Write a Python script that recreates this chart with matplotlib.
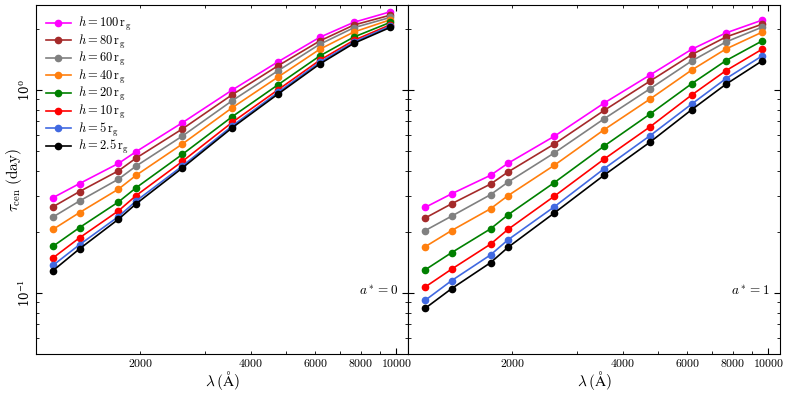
import numpy as np
import matplotlib
matplotlib.use("Agg")
import matplotlib.pyplot as plt
from matplotlib.ticker import FuncFormatter, NullFormatter, LogLocator

plt.rcParams['mathtext.fontset'] = 'cm'
plt.rcParams['font.family'] = 'serif'
plt.rcParams['font.serif'] = ['DejaVu Serif']

# wavelengths (Angstrom)
wave = [1158, 1367, 1746, 1950, 2607, 3565, 4755, 6174, 7651, 9630]

heights = ['100', '80', '60', '40', '20', '10', '5', '2.5']
colors = ['magenta', 'brown', 'gray', 'tab:orange', 'green', 'red', 'royalblue', 'black']

# a* = 0
tau_a0_h100 = [0.295, 0.346, 0.435, 0.497, 0.690, 1.000, 1.378, 1.818, 2.156, 2.430]
tau_a0_h80 = [0.266, 0.316, 0.400, 0.462, 0.643, 0.948, 1.317, 1.744, 2.090, 2.339]
tau_a0_h60 = [0.237, 0.284, 0.364, 0.422, 0.593, 0.886, 1.245, 1.679, 2.027, 2.280]
tau_a0_h40 = [0.206, 0.249, 0.325, 0.380, 0.542, 0.818, 1.159, 1.587, 1.931, 2.220]
tau_a0_h20 = [0.170, 0.210, 0.281, 0.330, 0.482, 0.739, 1.062, 1.471, 1.824, 2.156]
tau_a0_h10 = [0.149, 0.187, 0.254, 0.302, 0.445, 0.693, 1.003, 1.401, 1.757, 2.098]
tau_a0_h5 = [0.137, 0.173, 0.238, 0.284, 0.422, 0.665, 0.974, 1.369, 1.724, 2.067]
tau_a0_h2p5 = [0.129, 0.165, 0.231, 0.275, 0.413, 0.652, 0.956, 1.343, 1.698, 2.037]

# a* = 1
tau_a1_h100 = [0.264, 0.308, 0.380, 0.436, 0.592, 0.863, 1.186, 1.587, 1.910, 2.212]
tau_a1_h80 = [0.234, 0.275, 0.344, 0.395, 0.542, 0.794, 1.107, 1.493, 1.824, 2.113]
tau_a1_h60 = [0.203, 0.239, 0.305, 0.352, 0.490, 0.722, 1.015, 1.390, 1.724, 2.044]
tau_a1_h40 = [0.169, 0.203, 0.260, 0.302, 0.426, 0.638, 0.903, 1.254, 1.592, 1.931]
tau_a1_h20 = [0.130, 0.158, 0.207, 0.243, 0.350, 0.530, 0.762, 1.074, 1.395, 1.749]
tau_a1_h10 = [0.107, 0.131, 0.174, 0.206, 0.300, 0.457, 0.659, 0.945, 1.245, 1.592]
tau_a1_h5 = [0.092, 0.115, 0.154, 0.183, 0.266, 0.410, 0.596, 0.853, 1.137, 1.476]
tau_a1_h2p5 = [0.084, 0.105, 0.141, 0.168, 0.248, 0.381, 0.554, 0.800, 1.067, 1.395]

tau_a0 = [tau_a0_h100, tau_a0_h80, tau_a0_h60, tau_a0_h40,
          tau_a0_h20, tau_a0_h10, tau_a0_h5, tau_a0_h2p5]
tau_a1 = [tau_a1_h100, tau_a1_h80, tau_a1_h60, tau_a1_h40,
          tau_a1_h20, tau_a1_h10, tau_a1_h5, tau_a1_h2p5]

fig, axes = plt.subplots(1, 2, figsize=(7.89, 3.93), dpi=100, sharey=True)
fig.subplots_adjust(left=0.0456, right=0.9886, top=0.987, bottom=0.099, wspace=0)

xfmt = FuncFormatter(lambda v, p: r'$%d$' % v if int(round(v)) in (2000, 4000, 6000, 8000, 10000) else '')

for ax, data, spin in zip(axes, [tau_a0, tau_a1], ['0', '1']):
    for tau, h, c in zip(data, heights, colors):
        ax.plot(wave, tau, '-o', color=c, lw=1.2, ms=4.5,
                label=r'$h = %s\,\rm r_g$' % h)
    ax.set_xscale('log')
    ax.set_yscale('log')
    ax.set_xlim(1040, 10750)
    ax.set_ylim(0.05, 2.62)
    ax.xaxis.set_major_locator(LogLocator(base=10))
    ax.xaxis.set_minor_locator(LogLocator(base=10, subs=np.arange(2, 10)))
    ax.xaxis.set_major_formatter(xfmt)
    ax.xaxis.set_minor_formatter(xfmt)
    ax.tick_params(which='both', direction='in', top=True, right=True, labelsize=8.5, pad=2)
    ax.tick_params(which='major', length=4)
    ax.tick_params(which='minor', length=2)
    ax.set_xlabel(r'$\lambda\,(\rm \AA)$', fontsize=11, va='center')
    ax.xaxis.set_label_coords(0.5, -0.075)
    ax.text(0.92, 0.18, r'$a^* = %s$' % spin, transform=ax.transAxes,
            ha='center', va='center', fontsize=9.5)

axes[0].yaxis.set_minor_formatter(NullFormatter())
for lab in axes[0].get_yticklabels():
    lab.set_rotation(90)
    lab.set_va('center')
axes[0].set_ylabel(r'$\tau_{\rm cen}\ (\rm day)$', fontsize=11, va='center')
axes[0].yaxis.set_label_coords(-0.059, 0.5)
axes[1].tick_params(axis='y', which='both', labelleft=False)

axes[0].legend(loc='upper left', frameon=False, fontsize=9, handlelength=2.0,
               handletextpad=0.6, labelspacing=-0.04, borderaxespad=0.4)

fig.savefig('out.png', dpi=100)
